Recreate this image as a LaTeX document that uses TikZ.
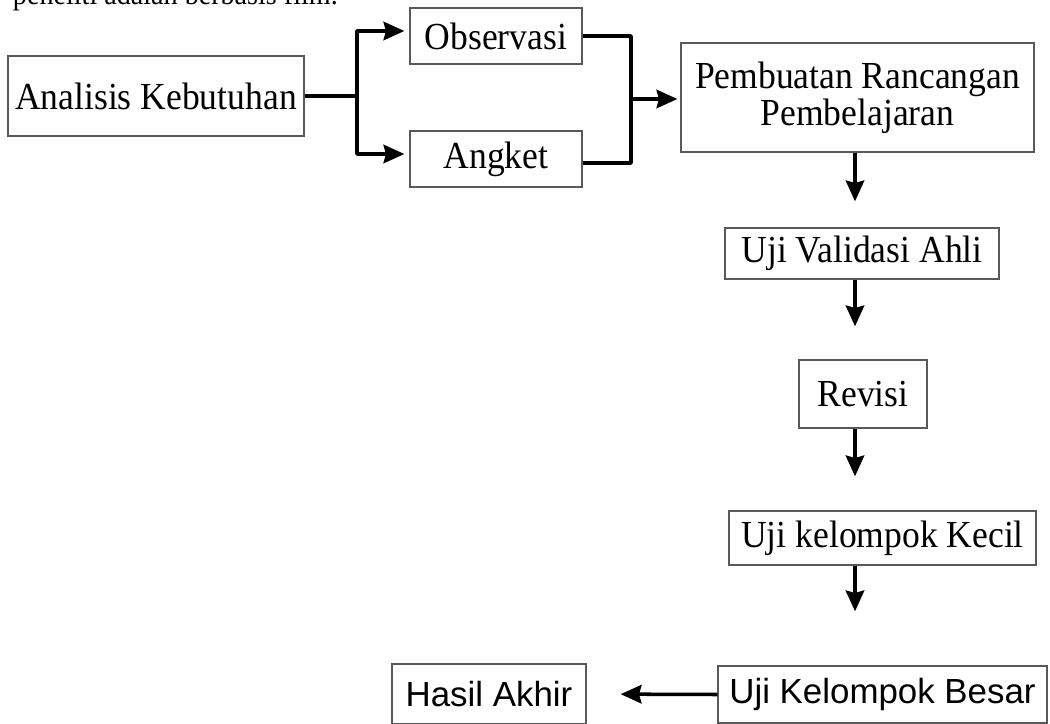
\documentclass[tikz,border=0pt]{standalone}
\usepackage{fontspec}
\setmainfont{Liberation Serif}[FakeStretch=0.93]
\newfontfamily\arialfont{Liberation Sans}
\usepackage{tikz}
\usetikzlibrary{arrows.meta,calc}
\newcommand{\px}{0.025cm}
\newcommand{\lw}{2.5pt}
\newcommand{\boxcolor}{black!65}

\tikzset{
  stepbox/.style={draw=\boxcolor, line width=0.9pt, inner sep=0pt, align=center,
    font=\fontsize{27.2}{26.3}\selectfont},
  sansbox/.style={stepbox, font=\arialfont\fontsize{24.8}{26}\selectfont},
  ln/.style={line width=\lw, line join=round},
  arr/.style={ln, -{Stealth[length=0.52cm, width=0.46cm, inset=0.06cm]}}
}

\begin{document}
\begin{tikzpicture}[x=\px, y=-\px]
\useasboundingbox (0,0) rectangle (1050,723);
\node (top) at (8, 5) [anchor=base west, font=\fontsize{21.5}{22}\selectfont] {peneliti adalah berbasis film.};
\node[stepbox] (ana) at (156, 96) [minimum width=296*\px, minimum height=80*\px] {Analisis Kebutuhan};
\node[stepbox] (obs) at (496, 36) [minimum width=172*\px, minimum height=56*\px] {Observasi};
\node[stepbox] (ang) at (496, 159) [minimum width=172*\px, minimum height=56*\px] {Angket};
\node[stepbox] (pem) at (857.5, 97.5) [minimum width=353*\px, minimum height=109*\px] {Pembuatan Rancangan\\Pembelajaran};
\node[stepbox] (val) at (862, 253.5) [minimum width=274*\px, minimum height=51*\px] {Uji Validasi Ahli};
\node[stepbox] (rev) at (863, 394) [minimum width=128*\px, minimum height=68*\px] {Revisi};
\node[stepbox] (kec) at (882.5, 538) [minimum width=307*\px, minimum height=54*\px] {Uji kelompok Kecil};
\node[sansbox] (bes) at (882.5, 694.5) [minimum width=329*\px, minimum height=57*\px] {Uji Kelompok Besar};
\node[sansbox] (has) at (489, 694) [minimum width=194*\px, minimum height=60*\px] {Hasil Akhir};
\coordinate (b1) at (357, 96);
\coordinate (m1) at (631, 99);
\coordinate (ax) at (855, 0);
%branch
\draw[ln] (ana.east) -- (b1);
\draw[arr, shorten >=0.125cm] (b1) |- ([yshift=0.125cm]obs.west);
\draw[arr, shorten >=0.125cm] (b1) |- ([yshift=0.125cm]ang.west);
%merge
\draw[ln] (obs.east) -| (m1) |- ([yshift=-0.1cm]ang.east);
\draw[arr, shorten >=0.075cm] (m1) -- (pem.west |- m1);
%down
\draw[arr, shorten >=0.65cm] (pem.south -| ax) -- (val.north -| ax);
\draw[arr, shorten >=0.825cm] (val.south -| ax) -- (rev.north -| ax);
\draw[arr, shorten >=0.85cm] (rev.south -| ax) -- (kec.north -| ax);
\draw[arr, shorten >=1.35cm] (kec.south -| ax) -- (bes.north -| ax);
%end
\draw[arr, shorten >=0.85cm] (bes.west) -- (has.east);
\end{tikzpicture}
\end{document}
